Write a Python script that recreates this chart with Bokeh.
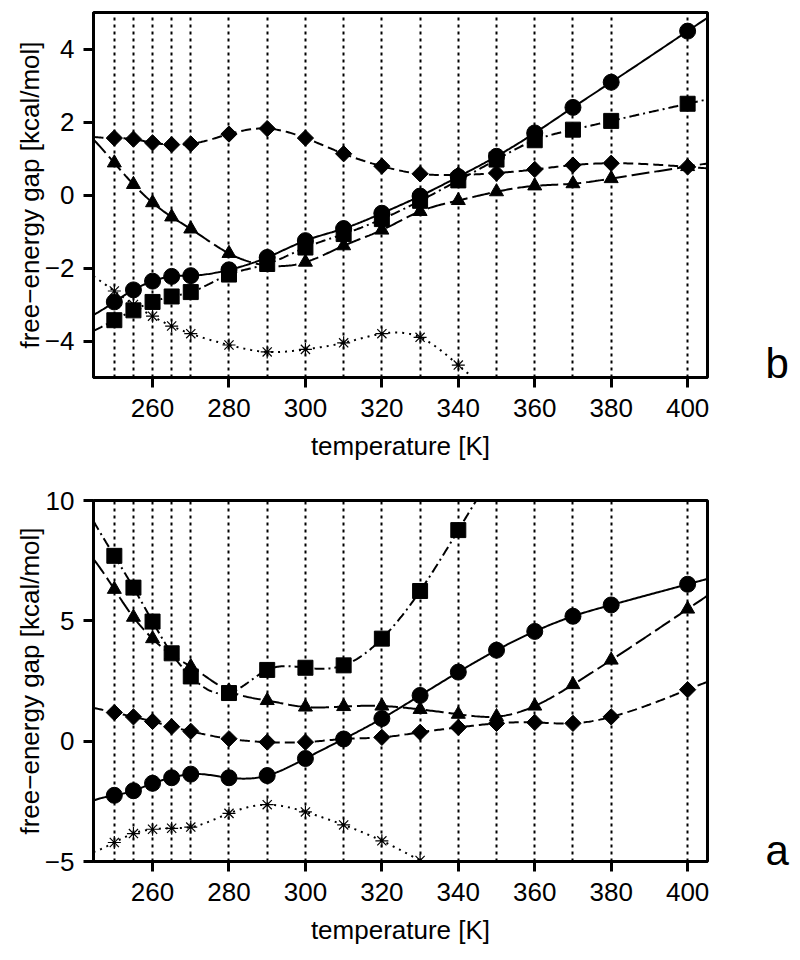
import numpy as np
from bokeh.plotting import figure
from bokeh.layouts import column
from bokeh.models import Range1d, FixedTicker, LinearAxis
from bokeh.embed import file_html
from bokeh.resources import INLINE

# ---------------- data ----------------
temps = [250, 255, 260, 265, 270, 280, 290, 300, 310, 320, 330, 340, 350, 360, 370, 380, 400]
temps_star_b = [250, 255, 260, 265, 270, 280, 290, 300, 310, 320, 330, 340]
temps_star_a = [250, 255, 260, 265, 270, 280, 290, 300, 310, 320, 330]
temps_square_a = [250, 255, 260, 265, 270, 280, 290, 300, 310, 320, 330, 340]

x_ticks = [260, 280, 300, 320, 340, 360, 380, 400]
y_ticks_b = [-4, -2, 0, 2, 4]
y_ticks_a = [-5, 0, 5, 10]

# panel b (top)
circle_b = [-2.93, -2.60, -2.36, -2.23, -2.21, -2.05, -1.71, -1.25, -0.92, -0.50, -0.03, 0.50, 1.06, 1.70, 2.40, 3.09, 4.49]
square_b = [-3.43, -3.16, -2.93, -2.78, -2.66, -2.18, -1.89, -1.44, -1.07, -0.66, -0.16, 0.40, 0.97, 1.50, 1.79, 2.03, 2.50]
diamond_b = [1.56, 1.53, 1.43, 1.38, 1.40, 1.67, 1.82, 1.56, 1.13, 0.79, 0.58, 0.55, 0.60, 0.70, 0.82, 0.87, 0.77]
triangle_b = [0.88, 0.29, -0.21, -0.60, -0.93, -1.60, -1.93, -1.84, -1.39, -0.96, -0.45, -0.15, 0.09, 0.25, 0.31, 0.45, 0.78]
star_b = [-2.63, -3.00, -3.32, -3.59, -3.80, -4.11, -4.30, -4.23, -4.05, -3.80, -3.90, -4.66]

# panel a (bottom)
circle_a = [-2.25, -2.06, -1.75, -1.52, -1.37, -1.52, -1.43, -0.72, 0.09, 0.94, 1.90, 2.87, 3.78, 4.56, 5.19, 5.66, 6.52]
square_a = [7.70, 6.38, 4.97, 3.65, 2.69, 2.00, 2.96, 3.05, 3.15, 4.26, 6.24, 8.77]
triangle_a = [6.31, 5.15, 4.26, 3.58, 3.10, 2.09, 1.69, 1.42, 1.44, 1.46, 1.32, 1.12, 1.02, 1.46, 2.35, 3.37, 5.49]
diamond_a = [1.19, 1.01, 0.82, 0.60, 0.41, 0.10, -0.04, -0.04, 0.09, 0.16, 0.37, 0.57, 0.74, 0.78, 0.74, 1.01, 2.14]
star_a = [-4.21, -3.84, -3.66, -3.62, -3.57, -3.00, -2.64, -2.94, -3.48, -4.14, -4.96]

FONT = "Liberation Sans"
X_START, X_END = 244.55, 405.2


def spline(x, y, xs):
    """natural cubic spline through (x, y), evaluated (and extended) at xs"""
    x = np.asarray(x, float)
    y = np.asarray(y, float)
    n = len(x)
    h = np.diff(x)
    A = np.zeros((n, n))
    r = np.zeros(n)
    A[0, 0] = 1.0
    A[-1, -1] = 1.0
    for i in range(1, n - 1):
        A[i, i - 1] = h[i - 1]
        A[i, i] = 2 * (h[i - 1] + h[i])
        A[i, i + 1] = h[i]
        r[i] = 3 * ((y[i + 1] - y[i]) / h[i] - (y[i] - y[i - 1]) / h[i - 1])
    c = np.linalg.solve(A, r)
    b = (y[1:] - y[:-1]) / h - h * (2 * c[:-1] + c[1:]) / 3
    d = (c[1:] - c[:-1]) / (3 * h)
    idx = np.clip(np.searchsorted(x, xs) - 1, 0, n - 2)
    dx = xs - x[idx]
    return y[idx] + b[idx] * dx + c[idx] * dx ** 2 + d[idx] * dx ** 3


STYLES = {
    "circle": dict(dash="solid", marker="circle", size=16, angle=0.0),
    "square": dict(dash="10 4 2 4", marker="square", size=15, angle=0.0),
    "diamond": dict(dash="10 5", marker="square", size=11.5, angle=np.pi / 4),
    "triangle": dict(dash="18 5", marker="triangle", size=14, angle=0.0),
    "star": dict(dash="2 5", marker="asterisk", size=13, angle=0.0),
}


def make_panel(height, top, bottom, yr, yticks, series, letter, letter_y):
    p = figure(width=792, height=height, output_backend="svg", toolbar_location=None,
               x_range=Range1d(X_START, X_END), y_range=Range1d(yr[0], yr[1]),
               min_border_left=93, min_border_right=85,
               min_border_top=top, min_border_bottom=bottom)
    p.outline_line_color = "black"
    p.outline_line_width = 3
    p.outline_line_alpha = 1.0

    p.xaxis.ticker = FixedTicker(ticks=x_ticks)
    p.yaxis.ticker = FixedTicker(ticks=yticks)
    p.yaxis.major_label_overrides = {t: str(t).replace("-", "\u2212") for t in yticks}
    for ax in (p.xaxis, p.yaxis):
        ax.axis_line_width = 3
        ax.axis_line_color = "black"
        ax.major_tick_out = 10
        ax.major_tick_in = 0
        ax.major_tick_line_width = 3
        ax.major_tick_line_color = "black"
        ax.minor_tick_out = 0
        ax.minor_tick_in = 0
        ax.major_label_text_font = FONT
        ax.major_label_text_font_size = "26px"
        ax.major_label_text_color = "black"
        ax.axis_label_text_font = FONT
        ax.axis_label_text_font_size = "26px"
        ax.axis_label_text_font_style = "normal"
        ax.axis_label_text_color = "black"
    p.xaxis.major_label_standoff = 11
    p.xaxis.axis_label_standoff = 11
    p.yaxis.major_label_standoff = 9
    p.yaxis.axis_label_standoff = -3
    p.xaxis.axis_label = "temperature [K]"
    p.yaxis.axis_label = "free\u2212energy gap [kcal/mol]"

    # panel letter as the only label of a bare right-hand axis
    rax = LinearAxis(ticker=FixedTicker(ticks=[letter_y]),
                     major_label_overrides={letter_y: letter})
    rax.axis_line_color = None
    rax.major_tick_line_color = None
    rax.major_tick_out = 0
    rax.major_tick_in = 0
    rax.minor_tick_out = 0
    rax.minor_tick_in = 0
    rax.major_label_standoff = 58
    rax.major_label_text_font = FONT
    rax.major_label_text_font_size = "42px"
    rax.major_label_text_color = "black"
    p.add_layout(rax, "right")

    p.xgrid.ticker = FixedTicker(ticks=temps)
    p.xgrid.grid_line_color = "black"
    p.xgrid.grid_line_dash = "3 4"
    p.xgrid.grid_line_width = 2
    p.ygrid.visible = False

    for name, xs, ys in series:
        st = STYLES[name]
        xe = np.linspace(X_START, min(X_END, xs[-1] + 6), 400)
        p.line(xe, spline(xs, ys, xe), line_color="black", line_width=2, line_dash=st["dash"])
    for name, xs, ys in series:
        st = STYLES[name]
        if name == "star":
            p.scatter(xs, ys, marker=st["marker"], size=st["size"], line_color="black",
                      line_width=1.2, fill_color=None)
        else:
            p.scatter(xs, ys, marker=st["marker"], size=st["size"], angle=st["angle"],
                      line_color="black", fill_color="black", line_width=1)
    return p


series_b = [
    ("star", temps_star_b, star_b),
    ("triangle", temps, triangle_b),
    ("diamond", temps, diamond_b),
    ("square", temps, square_b),
    ("circle", temps, circle_b),
]
series_a = [
    ("star", temps_star_a, star_a),
    ("triangle", temps, triangle_a),
    ("diamond", temps, diamond_a),
    ("square", temps_square_a, square_a),
    ("circle", temps, circle_a),
]

p1 = make_panel(477, 12, 100, (-5, 5), y_ticks_b, series_b, "b", -4.62)
p2 = make_panel(470, 23, 80, (-5, 10), y_ticks_a, series_a, "a", -4.55)

layout = column(p1, p2)
open("out.html", "w").write(file_html(layout, INLINE))
